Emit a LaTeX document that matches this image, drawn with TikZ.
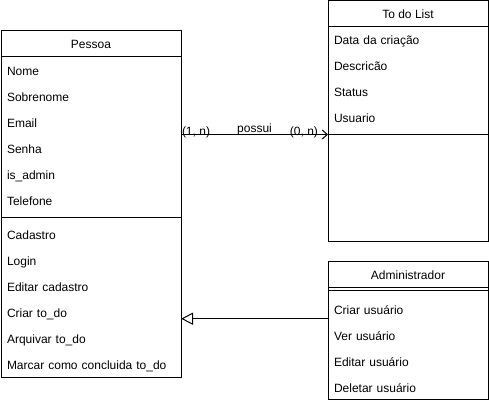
\documentclass[tikz,border=0pt]{standalone}
\usepackage{fontspec}
\setmainfont{Liberation Sans}
\usepackage{tikz}
\usetikzlibrary{arrows.meta, positioning, fit}

\begin{document}
\begin{tikzpicture}[
        x=1pt, y=1pt, line width=1pt, outer sep=0pt,
        classhead/.style={draw, rectangle, minimum height=26pt, inner sep=0pt, text height=10pt, text depth=0pt, anchor=north west, font=\fontsize{12pt}{14pt}\selectfont},
        member/.style={rectangle, text width=#1, align=left, inner xsep=6pt, inner ysep=0pt, minimum height=26pt, text height=11pt, text depth=0.4pt, font=\fontsize{12pt}{14pt}\selectfont},
        classbox/.style={draw, rectangle, inner sep=0pt},
        lbl/.style={inner sep=0pt, font=\fontsize{12pt}{14pt}\selectfont},
        assoc/.style={-{Straight Barb[length=5pt, width=9pt]}},
        inherit/.style={-{Triangle[open, length=12pt, width=12pt]}}
    ]
    \useasboundingbox (0,0) rectangle (489,-403);

    % Pessoa
    \node[classhead, minimum width=180pt] (pessoa) at (1,-31) {Pessoa};
    \node[member=168pt, below=0pt of pessoa] (nome) {Nome};
    \node[member=168pt, below=0pt of nome] (sobrenome) {Sobrenome};
    \node[member=168pt, below=0pt of sobrenome] (email) {Email};
    \node[member=168pt, below=0pt of email] (senha) {Senha};
    \node[member=168pt, below=0pt of senha] (isadmin) {is\_admin};
    \node[member=168pt, below=0pt of isadmin] (telefone) {Telefone};
    \node[member=168pt, below=8pt of telefone] (cadastro) {Cadastro};
    \node[member=168pt, below=0pt of cadastro] (login) {Login};
    \node[member=168pt, below=0pt of login] (editar) {Editar cadastro};
    \node[member=168pt, below=0pt of editar] (criartodo) {Criar to\_do};
    \node[member=168pt, below=0pt of criartodo] (arquivar) {Arquivar to\_do};
    \node[member=168pt, below=0pt of arquivar] (marcar) {Marcar como concluida to\_do};
    \node[classbox, fit=(pessoa)(marcar)] (pessoabox) {};
    \draw ([yshift=-4pt]telefone.south west) -- ([yshift=-4pt]telefone.south east);

    % To do List
    \node[classhead, minimum width=160pt] (todo) at (328,-0.5) {To do List};
    \node[member=148pt, below=0pt of todo] (data) {Data da criação};
    \node[member=148pt, below=0pt of data] (descricao) {Descricão};
    \node[member=148pt, below=0pt of descricao] (status) {Status};
    \node[member=148pt, below=0pt of status] (usuario) {Usuario};
    \node[member=148pt, minimum height=103pt, below=8pt of usuario] (todoops) {};
    \node[classbox, fit=(todo)(todoops)] (todobox) {};
    \coordinate (todosep) at ([yshift=-4pt]usuario.south west);
    \draw (todosep) -- (todosep -| todobox.east);

    % Administrador
    \node[classhead, minimum width=160pt] (admin) at (328,-261.7) {Administrador};
    \node[member=148pt, below=8pt of admin] (criar) {Criar usuário};
    \node[member=148pt, below=0pt of criar] (ver) {Ver usuário};
    \node[member=148pt, below=0pt of ver] (editaru) {Editar usuário};
    \node[member=148pt, below=0pt of editaru] (deletar) {Deletar usuário};
    \node[classbox, fit=(admin)(deletar)] (adminbox) {};
    \draw ([yshift=-2.5pt]admin.south west) -- ([yshift=-2.5pt]admin.south east);

    % Relations
    \draw[assoc] (todosep -| pessoabox.east) --
        node[lbl, pos=0, anchor=base west, xshift=1pt, yshift=-1pt] {(1, n)}
        node[lbl, midway, anchor=base, yshift=1.5pt] {possui}
        node[lbl, pos=1, anchor=base east, xshift=-10pt, yshift=-1pt] {(0, n)}
        (todosep);
    \coordinate (genfrom) at ([yshift=-10pt]criar.west);
    \draw[inherit] (genfrom) -- (genfrom -| pessoabox.east);

\end{tikzpicture}
\end{document}
